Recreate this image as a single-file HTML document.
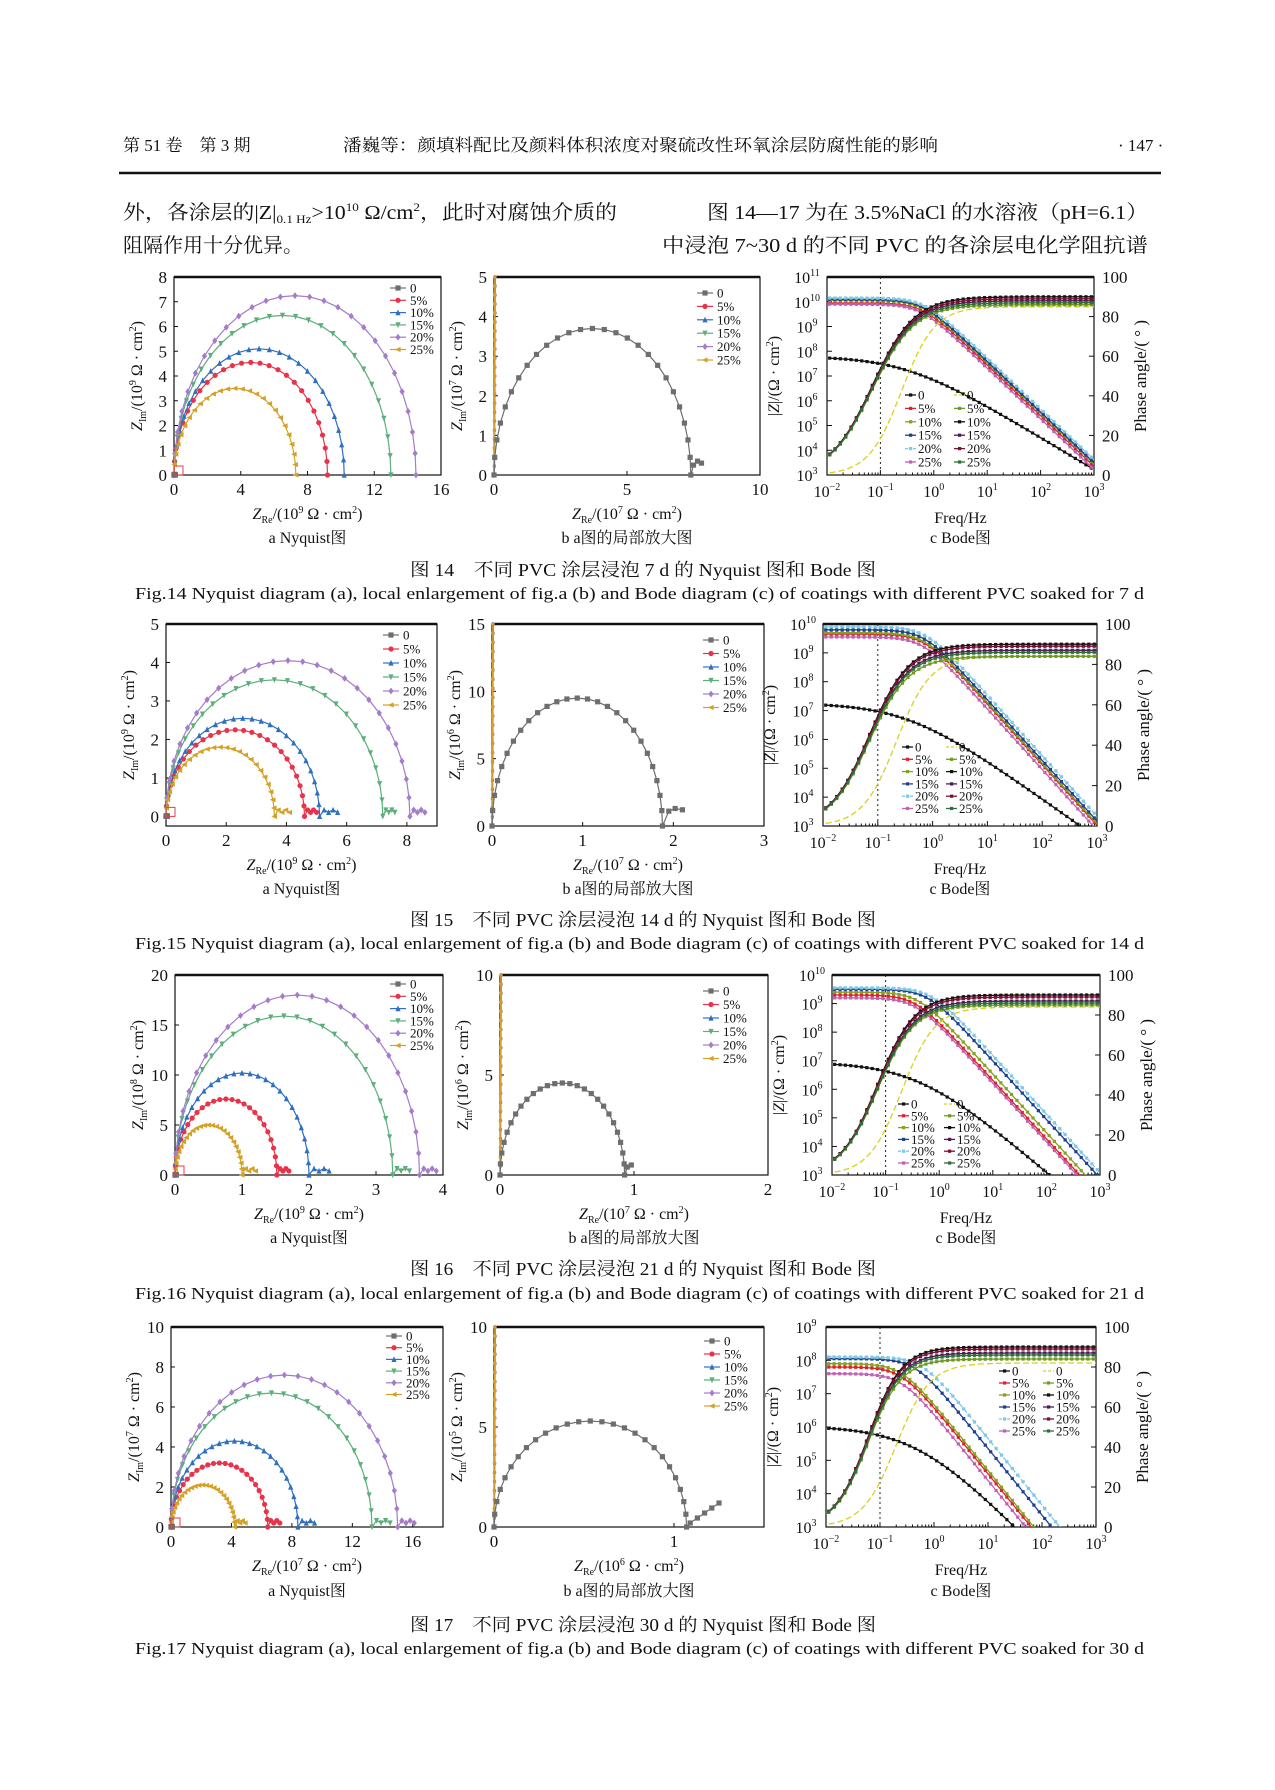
<!DOCTYPE html>
<html><head><meta charset="utf-8">
<style>
html,body{margin:0;padding:0;background:#fff;}
svg{display:block;}
text{font-family:"Liberation Serif","Noto Serif CJK SC","Noto Sans CJK SC",serif;fill:#111;}
</style></head>
<body>
<svg id="page" xmlns="http://www.w3.org/2000/svg" width="1275" height="1790" viewBox="0 0 1275 1790">
<rect width="1275" height="1790" fill="#fff"/>
<text x="123" y="151" font-size="17">第 51 卷　第 3 期</text>
<text x="343" y="151" font-size="17" textLength="595" lengthAdjust="spacingAndGlyphs">潘巍等：颜填料配比及颜料体积浓度对聚硫改性环氧涂层防腐性能的影响</text>
<text x="1118" y="151" font-size="17">· 147 ·</text>
<line x1="119" y1="173" x2="1161" y2="173" stroke="#111" stroke-width="2.5"/>
<text x="123" y="219" font-size="20" textLength="494" lengthAdjust="spacingAndGlyphs">外，各涂层的|Z|<tspan font-size="12" dy="4">0.1 Hz</tspan><tspan dy="-4">&gt;10</tspan><tspan font-size="12" dy="-8">10</tspan><tspan dy="8"> Ω/cm</tspan><tspan font-size="12" dy="-8">2</tspan><tspan dy="8">，此时对腐蚀介质的</tspan></text>
<text x="123" y="252" font-size="20">阻隔作用十分优异。</text>
<text x="707" y="219" font-size="20" textLength="441" lengthAdjust="spacingAndGlyphs">图 14—17 为在 3.5%NaCl 的水溶液（pH=6.1）</text>
<text x="662" y="252" font-size="20" textLength="486" lengthAdjust="spacingAndGlyphs">中浸泡 7~30 d 的不同 PVC 的各涂层电化学阻抗谱</text>
<g id="charts"></g>
</svg>
<script>
// ---------- data ----------
const seriesNames = ['0','5%','10%','15%','20%','25%'];
const f14NyqR = [9.2, 10.2, 13.0, 14.5, 7.3];
const f14NyqH = [4.55, 5.1, 6.45, 7.25, 3.5];
const f14NyqTail = [9.2, 10.2, 13.0, 14.5, 7.3];
const f15NyqR = [4.6, 5.1, 7.2, 8.1, 3.6];
const f15NyqH = [2.25, 2.55, 3.55, 4.05, 1.8];
const f15NyqTail = [5.0, 5.7, 7.6, 8.6, 4.1];
const f16NyqR = [1.52, 2.0, 3.25, 3.65, 1.0];
const f16NyqH = [7.6, 10.2, 15.9, 18.0, 5.0];
const f16NyqTail = [1.7, 2.3, 3.5, 3.9, 1.2];
const f17NyqR = [6.4, 8.4, 13.3, 15.0, 4.2];
const f17NyqH = [3.2, 4.3, 6.7, 7.6, 2.1];
const f17NyqTail = [7.2, 9.5, 14.5, 16.1, 4.9];
const f14ZeroArc = [7.4, 3.7];
const f14ZeroTailX = [7.5, 7.65, 7.8];
const f14ZeroTailY = [0.25, 0.35, 0.3];
const f15ZeroArc = [1.88, 9.5];
const f15ZeroTailX = [1.95, 2.02, 2.1];
const f15ZeroTailY = [1.1, 1.3, 1.2];
const f16ZeroArc = [0.93, 4.6];
const f16ZeroTailX = [0.95, 0.98];
const f16ZeroTailY = [0.4, 0.5];
const f17ZeroArc = [1.07, 5.3];
const f17ZeroTailX = [1.09, 1.13, 1.17, 1.21, 1.25];
const f17ZeroTailY = [0.2, 0.45, 0.7, 0.95, 1.2];
const f14ZLog = [7.8, 9.95, 10.05, 10.1, 10.15, 9.9];
const f14ZFc = [0.3, 0.6, 0.6, 0.6, 0.65, 0.55];
const f14ZSlope = [1.3, 2.05, 2.05, 2.05, 2.05, 2.05];
const f15ZLog = [7.26, 9.65, 9.7, 9.8, 9.9, 9.55];
const f15ZFc = [0.35, 0.7, 0.7, 0.7, 0.75, 0.65];
const f15ZSlope = [1.35, 2.1, 2.1, 2.1, 2.1, 2.1];
const f16ZLog = [6.95, 9.3, 9.4, 9.5, 9.55, 9.2];
const f16ZFc = [0.4, 0.35, 0.4, 0.6, 0.7, 0.35];
const f16ZSlope = [1.6, 2.05, 2.05, 2.05, 2.05, 2.05];
const f17ZLog = [6.03, 7.8, 7.9, 8.05, 8.1, 7.6];
const f17ZFc = [0.5, 0.25, 0.25, 0.45, 0.6, 0.25];
const f17ZSlope = [1.66, 2.0, 2.0, 2.0, 2.0, 2.0];
const f14PMax = [85, 86, 90, 88, 89, 87];
const f14PFp = [0.25, 0.07, 0.07, 0.07, 0.07, 0.07];
const f14PN = [1.4, 1.1, 1.1, 1.1, 1.1, 1.1];
const f15PMax = [84, 84, 90, 87, 89, 86];
const f15PFp = [0.22, 0.07, 0.07, 0.07, 0.07, 0.07];
const f15PN = [1.4, 1.2, 1.2, 1.2, 1.2, 1.2];
const f16PMax = [84, 85, 90, 87, 89, 86];
const f16PFp = [0.2, 0.07, 0.07, 0.07, 0.07, 0.07];
const f16PN = [1.4, 1.25, 1.25, 1.25, 1.25, 1.25];
const f17PMax = [82, 84, 90, 87, 89, 86];
const f17PFp = [0.2, 0.06, 0.06, 0.06, 0.06, 0.06];
const f17PN = [1.4, 1.4, 1.4, 1.4, 1.4, 1.4];
const phaseTicks = [0, 20, 40, 60, 80, 100];
const freqExps = [-2, -1, 0, 1, 2, 3];

// ---------- drawing ----------
const NS = 'http://www.w3.org/2000/svg';
const root = document.getElementById('charts');
const nyqColors = ['#6e6e6e','#e8334a','#2e6fbf','#5cae7a','#a47cc9','#d4a126'];
const zColors = ['#111','#e0202a','#86a020','#1f3f8f','#7ec8e3','#c060b0'];
const pColors = ['#d8d020','#6f9a20','#111','#4a1a5a','#7a1030','#2f6f3a'];
function mk(tag, a, parent){const e=document.createElementNS(NS,tag);for(const k in a)e.setAttribute(k,a[k]);(parent||root).appendChild(e);return e;}
function txt(x,y,s,size,parent,anchor){const t=mk('text',{x:x,y:y,'font-size':size,'text-anchor':anchor||'middle'},parent);t.textContent=s;return t;}
function marker(g,shape,x,y,c,r){
  let e;
  if(shape===0)e=mk('rect',{x:x-r,y:y-r,width:2*r,height:2*r,fill:c},g);
  else if(shape===1)e=mk('circle',{cx:x,cy:y,r:r,fill:c},g);
  else if(shape===2)e=mk('polygon',{points:`${x},${y-r-0.5} ${x-r},${y+r} ${x+r},${y+r}`,fill:c},g);
  else if(shape===3)e=mk('polygon',{points:`${x},${y+r+0.5} ${x-r},${y-r} ${x+r},${y-r}`,fill:c},g);
  else if(shape===4)e=mk('polygon',{points:`${x},${y-r-0.8} ${x+r},${y} ${x},${y+r+0.8} ${x-r},${y}`,fill:c},g);
  else e=mk('polygon',{points:`${x-r-0.5},${y} ${x+r},${y-r} ${x+r},${y+r}`,fill:c},g);
  
  
}
function frame(g,p){
  const r=mk('rect',{x:p.x0,y:p.y0,width:p.x1-p.x0,height:p.y1-p.y0,fill:'none',stroke:'#111','stroke-width':1.2},g);
  
  
  const l=mk('line',{x1:p.x0,y1:p.y0,x2:p.x1,y2:p.y0,stroke:'#111','stroke-width':2.4},g);
  
  
}
function axisLabel(g,x,y,main,sub,unitExp,rot){
  const t=mk('text',{x:x,y:y,'font-size':16,'text-anchor':'middle',transform:rot?`rotate(-90 ${x} ${y})`:''},g);
  t.innerHTML=`<tspan font-style="italic">Z</tspan><tspan font-size="10" dy="4">${sub}</tspan><tspan dy="-4">/(10</tspan><tspan font-size="10" dy="-6">${unitExp}</tspan><tspan dy="6"> Ω · cm</tspan><tspan font-size="10" dy="-6">2</tspan><tspan dy="6">)</tspan>`;
  return t;
}
function nyquistPanel(name,p,xt,yt,ux,uy,legendPos){
  const g=mk('g',{});
  
  
  const X=v=>p.x0+(v-p.xmin)/(p.xmax-p.xmin)*(p.x1-p.x0);
  const Y=v=>p.y1-(v-p.ymin)/(p.ymax-p.ymin)*(p.y1-p.y0);
  frame(g,p);
  xt.forEach(v=>{mk('line',{x1:X(v),y1:p.y1,x2:X(v),y2:p.y1-4,stroke:'#111'},g);const t=txt(X(v),p.y1+20,String(v),17,g);});
  yt.forEach(v=>{mk('line',{x1:p.x0,y1:Y(v),x2:p.x0+4,y2:Y(v),stroke:'#111'},g);const t=txt(p.x0-7,Y(v)+6,String(v),17,g,'end');});
  const xl=axisLabel(g,(p.x0+p.x1)/2,p.y1+44,'Z','Re',ux,false);
  
  
  const yl=axisLabel(g,p.x0-32,(p.y0+p.y1)/2,'Z','Im',uy,true);
  
  
  seriesNames.forEach((s,i)=>{
    const ly=legendPos[1]+i*legendPos[2];
    mk('line',{x1:legendPos[0]-8,y1:ly,x2:legendPos[0]+8,y2:ly,stroke:nyqColors[i],'stroke-width':1.2},g);
    marker(g,i,legendPos[0],ly,nyqColors[i],2.6);
    const t=txt(legendPos[0]+12,ly+4.5,s,13,g,'start');
    
    
  });
  return {g,X,Y};
}
function drawSeries(g,pts,i,X,Y,name,mr){
  const d=pts.map((q,k)=>(k?'L':'M')+X(q[0]).toFixed(1)+','+Y(q[1]).toFixed(1)).join(' ');
  const path=mk('path',{d:d,fill:'none',stroke:nyqColors[i],'stroke-width':1.2},g);
  
  
  pts.forEach(q=>marker(g,i,X(q[0]),Y(q[1]),nyqColors[i],mr||2.6));
}
function arcPts(R,H,n){const a=[];for(let k=0;k<=n;k++){const t=Math.PI*k/n;a.push([R/2*(1-Math.cos(t)),H*Math.sin(t)]);}return a;}
function nyqA(name,p,xt,yt,ux,uy,leg,Rs,Hs,Ts){
  const {g,X,Y}=nyquistPanel(name,p,xt,yt,ux,uy,leg);
  Rs.forEach((R,j)=>{
    const pts=arcPts(R,Hs[j],26);
    const tailY=(p.ymax-p.ymin)*0.02;
    if(Ts[j]>R){const m=4;for(let k=1;k<=m;k++)pts.push([R+(Ts[j]-R)*k/m,tailY*(k%2?1.6:1)]);}
    drawSeries(g,pts,j+1,X,Y,'nyquist-series-'+seriesNames[j+1]);
  });
  drawSeries(g,arcPts((p.xmax-p.xmin)*0.005,(p.ymax-p.ymin)*0.003,6),0,X,Y,'nyquist-series-0');
  const box=mk('rect',{x:X(0),y:Y(0)-9,width:9,height:9,fill:'none',stroke:'#e04050','stroke-width':1},g);
  
  
}
function nyqB(name,p,xt,yt,ux,uy,leg,arc,tx,ty){
  const {g,X,Y}=nyquistPanel(name,p,xt,yt,ux,uy,leg);
  for(let j=1;j<=5;j++){
    const pts=[];for(let k=0;k<=22;k++){const yv=p.ymax*k/22;pts.push([p.xmax*0.003*(k/22)+p.xmax*0.0004*(5-j),yv]);}
    drawSeries(g,pts,j,X,Y,'nyquist-zoom-series-'+seriesNames[j],1.6);
  }
  const pts=arcPts(arc[0],arc[1],26);
  tx.forEach((v,k)=>pts.push([v,ty[k]]));
  drawSeries(g,pts,0,X,Y,'nyquist-zoom-series-0');
}
function bode(name,p,zmax,ZL,ZF,ZS,PM,PF,PN,leg){
  const g=mk('g',{});
  
  
  const X=lf=>p.x0+(lf+2)/5*(p.x1-p.x0);
  const YL=lz=>p.y1-(lz-3)/(zmax-3)*(p.y1-p.y0);
  const YR=ph=>p.y1-ph/100*(p.y1-p.y0);
  frame(g,p);
  freqExps.forEach(e=>{
    mk('line',{x1:X(e),y1:p.y1,x2:X(e),y2:p.y1-5,stroke:'#111'},g);
    if(e<3)for(let m=2;m<10;m++){const xx=X(e+Math.log10(m));mk('line',{x1:xx,y1:p.y1,x2:xx,y2:p.y1-2.5,stroke:'#111'},g);}
    const t=mk('text',{x:X(e),y:p.y1+22,'font-size':16,'text-anchor':'middle'},g);
    t.innerHTML=`10<tspan font-size="10" dy="-7">${e<0?'−'+(-e):e}</tspan>`;
    
    
  });
  for(let e=3;e<=zmax;e++){
    mk('line',{x1:p.x0,y1:YL(e),x2:p.x0+5,y2:YL(e),stroke:'#111'},g);
    const t=mk('text',{x:p.x0-20,y:YL(e)+6,'font-size':16,'text-anchor':'middle'},g);
    t.innerHTML=`10<tspan font-size="10" dy="-7">${e}</tspan>`;
    
    
  }
  phaseTicks.forEach(v=>{
    mk('line',{x1:p.x1,y1:YR(v),x2:p.x1-5,y2:YR(v),stroke:'#111'},g);
    const t=txt(p.x1+8,YR(v)+6,String(v),17,g,'start');
    
    
  });
  const vl=mk('line',{x1:X(-1),y1:p.y0,x2:X(-1),y2:p.y1,stroke:'#222','stroke-width':1,'stroke-dasharray':'2,3'},g);
  
  
  const xt=txt((p.x0+p.x1)/2,p.y1+48,'Freq/Hz',16,g);
  
  
  const ylx=p.x0-48,yly=(p.y0+p.y1)/2;
  const yt=mk('text',{x:ylx,y:yly,'font-size':16,'text-anchor':'middle',transform:`rotate(-90 ${ylx} ${yly})`},g);
  yt.innerHTML=`|<tspan font-style="italic">Z</tspan>|/(Ω · cm<tspan font-size="10" dy="-6">2</tspan><tspan dy="6">)</tspan>`;
  
  
  const rx=p.x1+52;
  const rt=mk('text',{x:rx,y:yly,'font-size':17,'text-anchor':'middle',transform:`rotate(-90 ${rx} ${yly})`},g);
  rt.textContent='Phase angle/( ° )';
  
  
  const clip='clip'+name;
  const cp=mk('clipPath',{id:clip},g);mk('rect',{x:p.x0,y:p.y0,width:p.x1-p.x0,height:p.y1-p.y0},cp);
  const cg=mk('g',{'clip-path':`url(#${clip})`},g);
  const step=0.05;
  function curve(fn,yf,c,dash,nm,mshape){
    const pts=[];for(let lf=-1.95;lf<=3.001;lf+=step)pts.push([X(lf),yf(fn(Math.pow(10,lf)))]);
    const d=pts.map((q,k)=>(k?'L':'M')+q[0].toFixed(1)+','+q[1].toFixed(1)).join(' ');
    const pa=mk('path',{d:d,fill:'none',stroke:c,'stroke-width':1.3,'stroke-dasharray':dash||''},cg);
    
    
    if(mshape!==null)for(let k=0;k<pts.length;k+=2){
      const m=mk('rect',{x:pts[k][0]-1.6,y:pts[k][1]-1.6,width:3.2,height:3.2,fill:c},cg);
      
      
    }
  }
  for(let i=0;i<6;i++){
    const L=ZL[i],fc=ZF[i],s=ZS[i],k=i===0?0.7:2;
    curve(f=>L-s/k*Math.log10(1+Math.pow(f/fc,k)),YL,zColors[i],i===4?'5,2':'', 'impedance-series-'+seriesNames[i],i===0?0:1);
  }
  for(let i=0;i<6;i++){
    const pm=PM[i],fp=PF[i],n=PN[i];
    curve(f=>{const x=Math.pow(f/fp,n);return pm*x/(1+x);},YR,pColors[i],i===0?'6,3':'','phase-series-'+seriesNames[i],i===0?null:1);
  }
  seriesNames.forEach((s,i)=>{
    const ly=leg[1]+i*leg[3];
    mk('line',{x1:leg[0]-8,y1:ly,x2:leg[0]+3,y2:ly,stroke:zColors[i],'stroke-width':1.3,'stroke-dasharray':i===4?'3,1':''},g);
    mk('rect',{x:leg[0]-4,y:ly-1.6,width:3.2,height:3.2,fill:zColors[i]},g);
    const t1=txt(leg[0]+5,ly+4.5,s,13,g,'start');
    
    
    mk('line',{x1:leg[2]-8,y1:ly,x2:leg[2]+3,y2:ly,stroke:pColors[i],'stroke-width':1.3,'stroke-dasharray':i===0?'3,2':''},g);
    if(i>0)mk('rect',{x:leg[2]-4,y:ly-1.6,width:3.2,height:3.2,fill:pColors[i]},g);
    const t2=txt(leg[2]+5,ly+4.5,s,13,g,'start');
    
    
  });
}
function sub(x,y,s){const t=txt(x,y,s,16,root);}
function caption(y1,y2,cn,en){
  const a=mk('text',{x:410,y:y1+6,'font-size':18,'textLength':466,'lengthAdjust':'spacingAndGlyphs'});a.textContent=cn;
  
  
  const b=mk('text',{x:135,y:y2+6,'font-size':17,'textLength':1009,'lengthAdjust':'spacingAndGlyphs'});b.textContent=en;
  
  
}
function figure(n,top,bot,ax,bx,cx,cfg){
  nyqA('fig'+n+'-nyquist',{x0:ax[0],x1:ax[1],y0:top,y1:bot,xmin:0,xmax:cfg.ax,ymin:cfg.aymin,ymax:cfg.ay},cfg.axt,cfg.ayt,cfg.aux,cfg.auy,cfg.aleg,cfg.R,cfg.H,cfg.T);
  nyqB('fig'+n+'-nyquist-zoom',{x0:bx[0],x1:bx[1],y0:top,y1:bot,xmin:0,xmax:cfg.bx,ymin:cfg.bymin,ymax:cfg.by},cfg.bxt,cfg.byt,cfg.bux,cfg.buy,cfg.bleg,cfg.arc,cfg.tx,cfg.ty);
  bode('fig'+n+'-bode',{x0:cx[0],x1:cx[1],y0:top,y1:bot},cfg.zmax,cfg.ZL,cfg.ZF,cfg.ZS,cfg.PM,cfg.PF,cfg.PN,cfg.cleg);
  sub((ax[0]+ax[1])/2,cfg.sy+6,'a  Nyquist图');
  sub((bx[0]+bx[1])/2,cfg.sy+6,'b  a图的局部放大图');
  sub((cx[0]+cx[1])/2,cfg.sy+6,'c  Bode图');
}
figure(14,277,475,[174,441],[494,760],[827,1094],{ax:16,aymin:0,ay:8,axt:[0,4,8,12,16],ayt:[0,1,2,3,4,5,6,7,8],aux:9,auy:9,aleg:[398,288,12.3],R:f14NyqR,H:f14NyqH,T:f14NyqTail,
  bx:10,bymin:0,by:5,bxt:[0,5,10],byt:[0,1,2,3,4,5],bux:7,buy:7,bleg:[705,293,13.4],arc:f14ZeroArc,tx:f14ZeroTailX,ty:f14ZeroTailY,
  zmax:11,ZL:f14ZLog,ZF:f14ZFc,ZS:f14ZSlope,PM:f14PMax,PF:f14PFp,PN:f14PN,cleg:[913,395,962,13.4],sy:537});
caption(570,593,'图 14　不同 PVC 涂层浸泡 7 d 的 Nyquist 图和 Bode 图','Fig.14 Nyquist diagram (a), local enlargement of fig.a (b) and Bode diagram (c) of coatings with different PVC soaked for 7 d');
figure(15,624,826,[166,437],[492,764],[823,1097],{ax:9,aymin:-0.25,ay:5,axt:[0,2,4,6,8],ayt:[0,1,2,3,4,5],aux:9,auy:9,aleg:[391,635,14],R:f15NyqR,H:f15NyqH,T:f15NyqTail,
  bx:3,bymin:0,by:15,bxt:[0,1,2,3],byt:[0,5,10,15],bux:7,buy:6,bleg:[711,640,13.5],arc:f15ZeroArc,tx:f15ZeroTailX,ty:f15ZeroTailY,
  zmax:10,ZL:f15ZLog,ZF:f15ZFc,ZS:f15ZSlope,PM:f15PMax,PF:f15PFp,PN:f15PN,cleg:[910,747,954,12.3],sy:888});
caption(920,943,'图 15　不同 PVC 涂层浸泡 14 d 的 Nyquist 图和 Bode 图','Fig.15 Nyquist diagram (a), local enlargement of fig.a (b) and Bode diagram (c) of coatings with different PVC soaked for 14 d');
figure(16,975,1175,[175,443],[500,768],[832,1100],{ax:4,aymin:0,ay:20,axt:[0,1,2,3,4],ayt:[0,5,10,15,20],aux:9,auy:8,aleg:[398,984,12.3],R:f16NyqR,H:f16NyqH,T:f16NyqTail,
  bx:2,bymin:0,by:10,bxt:[0,1,2],byt:[0,5,10],bux:7,buy:6,bleg:[711,991,13.5],arc:f16ZeroArc,tx:f16ZeroTailX,ty:f16ZeroTailY,
  zmax:10,ZL:f16ZLog,ZF:f16ZFc,ZS:f16ZSlope,PM:f16PMax,PF:f16PFp,PN:f16PN,cleg:[906,1104,952,11.8],sy:1237});
caption(1269,1293,'图 16　不同 PVC 涂层浸泡 21 d 的 Nyquist 图和 Bode 图','Fig.16 Nyquist diagram (a), local enlargement of fig.a (b) and Bode diagram (c) of coatings with different PVC soaked for 21 d');
figure(17,1327,1527,[171,443],[494,764],[826,1096],{ax:18,aymin:0,ay:10,axt:[0,4,8,12,16],ayt:[0,2,4,6,8,10],aux:7,auy:7,aleg:[394,1336,11.7],R:f17NyqR,H:f17NyqH,T:f17NyqTail,
  bx:1.5,bymin:0,by:10,bxt:[0,1],byt:[0,5,10],bux:6,buy:5,bleg:[712,1341,13],arc:f17ZeroArc,tx:f17ZeroTailX,ty:f17ZeroTailY,
  zmax:9,ZL:f17ZLog,ZF:f17ZFc,ZS:f17ZSlope,PM:f17PMax,PF:f17PFp,PN:f17PN,cleg:[1007,1371,1051,12],sy:1590});
caption(1625,1648,'图 17　不同 PVC 涂层浸泡 30 d 的 Nyquist 图和 Bode 图','Fig.17 Nyquist diagram (a), local enlargement of fig.a (b) and Bode diagram (c) of coatings with different PVC soaked for 30 d');
</script>
</body></html>
